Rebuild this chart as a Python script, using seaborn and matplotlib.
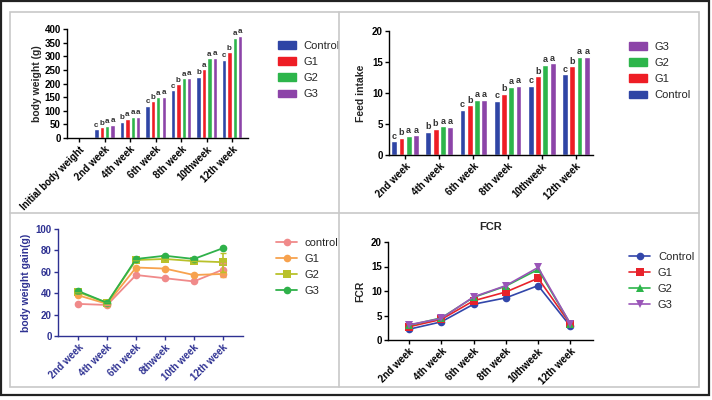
import pandas as pd
import seaborn as sns
import numpy as np
import matplotlib.pyplot as plt
import matplotlib
from matplotlib.patches import Rectangle
from matplotlib.lines import Line2D

matplotlib.use('Agg')

groups = ['Control', 'G1', 'G2', 'G3']

# === body weight ===
bw_weeks = ['Initial body weight', '2nd week', '4th week', '6th week', '8th week', '10thweek', '12th week']
bw_control = [1.5, 32, 60, 118, 175, 225, 288]
bw_g1 = [1.5, 40, 70, 135, 197, 253, 315]
bw_g2 = [1.5, 45, 78, 150, 220, 293, 368]
bw_g3 = [1.5, 48, 77, 152, 222, 295, 375]
bw_letters_control = ['', 'c', 'b', 'c', 'c', 'b', 'c']
bw_letters_g1 = ['', 'b', 'a', 'b', 'b', 'a', 'b']
bw_letters_g2 = ['', 'a', 'a', 'a', 'a', 'a', 'a']
bw_letters_g3 = ['', 'a', 'a', 'a', 'a', 'a', 'a']

# === feed intake ===
fi_weeks = ['2nd week', '4th week', '6th week', '8th week', '10thweek', '12th week']
fi_control = [2.2, 3.7, 7.3, 8.7, 11.2, 13.0]
fi_g1 = [2.8, 4.2, 8.0, 9.9, 12.7, 14.3]
fi_g2 = [3.1, 4.6, 8.9, 11.0, 14.5, 15.8]
fi_g3 = [3.2, 4.5, 8.9, 11.2, 14.8, 15.8]
fi_letters_control = ['c', 'b', 'c', 'c', 'c', 'c']
fi_letters_g1 = ['b', 'b', 'b', 'b', 'b', 'b']
fi_letters_g2 = ['a', 'a', 'a', 'a', 'a', 'a']
fi_letters_g3 = ['a', 'a', 'a', 'a', 'a', 'a']

# === body weight gain ===
gain_weeks = ['2nd week', '4th week', '6th week', '8thweek', '10th week', '12th week']
gain_labels = ['control', 'G1', 'G2', 'G3']
gain_control = [30, 29, 57, 54, 51, 62]
gain_g1 = [38, 30, 64, 63, 57, 58]
gain_g2 = [41, 31, 71, 72, 70, 69]
gain_g3 = [42, 31, 72, 75, 72, 82]
gain_err_control = [0, 0, 0, 0, 0, 6]
gain_err_g1 = [0, 0, 0, 0, 0, 3]
gain_err_g2 = [0, 0, 0, 0, 0, 9]
gain_err_g3 = [0, 0, 0, 0, 0, 1]

# === FCR ===
fcr_weeks = ['2nd week', '4th week', '6th week', '8th week', '10thweek', '12th week']
fcr_control = [2.2, 3.7, 7.3, 8.6, 11.1, 2.8]
fcr_g1 = [2.7, 4.2, 8.0, 9.8, 12.6, 3.2]
fcr_g2 = [3.0, 4.5, 8.7, 11.0, 14.4, 3.3]
fcr_g3 = [3.1, 4.4, 8.8, 11.1, 14.8, 3.3]

bar_colors = ['#2F45A5', '#EE1D25', '#2DB54B', '#8C44A8']
gain_colors = ['#F08A8A', '#F7A24E', '#B9C12B', '#2FB14A']
fcr_colors = ['#3246AA', '#E8222B', '#2DB54B', '#9A55B8']
navy = '#2E3192'

sns.set_style('ticks')
plt.rcParams['font.family'] = ['Liberation Sans', 'DejaVu Sans']
plt.rcParams['axes.linewidth'] = 1.0

W, H = 712, 400
fig = plt.figure(figsize=(W / 100, H / 100), dpi=100)


def px_axes(x0, y0, x1, y1):
    return fig.add_axes([x0 / W, 1 - y1 / H, (x1 - x0) / W, (y1 - y0) / H])


def long_df(weeks, series, names):
    rows = []
    for name, vals in zip(names, series):
        for w, v in zip(weeks, vals):
            rows.append({'week': w, 'group': name, 'value': v})
    return pd.DataFrame(rows)


def style_axes(ax, color='black'):
    sns.despine(ax=ax)
    for s in ['left', 'bottom']:
        ax.spines[s].set_color(color)
    ax.tick_params(axis='both', colors=color, length=3, width=1, labelsize=7, pad=1.5)
    for lab in ax.get_xticklabels() + ax.get_yticklabels():
        lab.set_fontweight('bold')
        lab.set_color(color)


def add_letters(ax, letters_lists, offset, size):
    for cont, letters in zip(ax.containers, letters_lists):
        for bar, let in zip(cont, letters):
            if let:
                ax.text(bar.get_x() + bar.get_width() / 2, bar.get_height() + offset, let,
                        ha='center', va='bottom', fontsize=size, fontweight='bold', color='#333333')


def bar_legend(ax, order, x, y):
    handles = [Rectangle((0, 0), 1, 1, color=bar_colors[groups.index(g)]) for g in order]
    ax.legend(handles, order, loc='upper left', bbox_to_anchor=(x / W, 1 - y / H),
              bbox_transform=fig.transFigure, frameon=False, fontsize=8,
              handlelength=1.6, handleheight=0.7, handletextpad=0.7, labelspacing=0.55)


# === 1. body weight ===
ax1 = px_axes(67, 29, 248, 138)
df1 = long_df(bw_weeks, [bw_control, bw_g1, bw_g2, bw_g3], groups)
sns.barplot(data=df1, x='week', y='value', hue='group', palette=bar_colors, width=0.85,
            gap=0.2, ax=ax1, legend=False, saturation=1)
add_letters(ax1, [bw_letters_control, bw_letters_g1, bw_letters_g2, bw_letters_g3], 2, 5.8)
ax1.set_ylim(0, 400)
ax1.set_yticks(range(0, 401, 50))
ax1.set_xlim(-0.47, 6.62)
ax1.set_xlabel('')
ax1.set_ylabel('body weight (g)', fontsize=7.5, fontweight='bold', labelpad=2)
ax1.set_xticks(range(len(bw_weeks)))
ax1.set_xticklabels(bw_weeks, rotation=45, ha='right', rotation_mode='anchor')
style_axes(ax1)
bar_legend(ax1, groups, 268, 31)

# === 2. feed intake ===
ax2 = px_axes(389, 31, 593, 155)
df2 = long_df(fi_weeks, [fi_control, fi_g1, fi_g2, fi_g3], groups)
sns.barplot(data=df2, x='week', y='value', hue='group', palette=bar_colors, width=0.85,
            gap=0.2, ax=ax2, legend=False, saturation=1)
add_letters(ax2, [fi_letters_control, fi_letters_g1, fi_letters_g2, fi_letters_g3], 0.1, 6.5)
ax2.set_ylim(0, 20)
ax2.set_yticks(range(0, 21, 5))
ax2.set_xlim(-0.47, 5.5)
ax2.set_xlabel('')
ax2.set_ylabel('Feed intake', fontsize=7.5, fontweight='bold', labelpad=4)
ax2.set_xticks(range(len(fi_weeks)))
ax2.set_xticklabels(fi_weeks, rotation=45, ha='right', rotation_mode='anchor')
style_axes(ax2)
bar_legend(ax2, groups[::-1], 619, 32)

# === 3. body weight gain ===
ax3 = px_axes(58, 229, 243, 336)
df3 = long_df(gain_weeks, [gain_control, gain_g1, gain_g2, gain_g3], gain_labels)
gain_markers = ['o', 'o', 's', 'o']
sns.lineplot(data=df3, x='week', y='value', hue='group', style='group', palette=gain_colors,
             markers=gain_markers, dashes=False, ax=ax3, legend=False, linewidth=1.3,
             markersize=5.5, markeredgewidth=0)
for vals, errs, c in zip([gain_control, gain_g1, gain_g2, gain_g3],
                         [gain_err_control, gain_err_g1, gain_err_g2, gain_err_g3], gain_colors):
    ax3.errorbar(range(len(gain_weeks)), vals, yerr=errs, fmt='none', ecolor=c,
                 elinewidth=1.2, capsize=2.5)
ax3.set_ylim(0, 100)
ax3.set_yticks(range(0, 101, 20))
ax3.set_xlim(-0.7, 5.7)
ax3.set_xlabel('')
ax3.set_ylabel('body weight gain(g)', fontsize=7.5, fontweight='bold', color=navy, labelpad=3)
ax3.set_xticks(range(len(gain_weeks)))
ax3.set_xticklabels(gain_weeks, rotation=45, ha='right', rotation_mode='anchor')
style_axes(ax3, navy)
h3 = [Line2D([], [], color=c, marker=m, markersize=5.5, markeredgewidth=0, linewidth=1.3)
      for c, m in zip(gain_colors, gain_markers)]
ax3.legend(h3, gain_labels, loc='upper left', bbox_to_anchor=(266 / W, 1 - 228 / H),
           bbox_transform=fig.transFigure, frameon=False, fontsize=8,
           handlelength=1.9, handletextpad=0.7, labelspacing=0.55)

# === 4. FCR ===
ax4 = px_axes(388, 242, 593, 340)
df4 = long_df(fcr_weeks, [fcr_control, fcr_g1, fcr_g2, fcr_g3], groups)
fcr_markers = ['o', 's', '^', 'v']
sns.lineplot(data=df4, x='week', y='value', hue='group', style='group', palette=fcr_colors,
             markers=fcr_markers, dashes=False, ax=ax4, legend=False, linewidth=1.2,
             markersize=5.5, markeredgewidth=0)
ax4.set_ylim(0, 20)
ax4.set_yticks(range(0, 21, 5))
ax4.set_xlim(-0.65, 5.7)
ax4.set_xlabel('')
ax4.set_ylabel('FCR', fontsize=7.5, fontweight='bold', labelpad=4)
ax4.set_title('FCR', fontsize=8, fontweight='bold', pad=9)
ax4.set_xticks(range(len(fcr_weeks)))
ax4.set_xticklabels(fcr_weeks, rotation=45, ha='right', rotation_mode='anchor')
style_axes(ax4)
h4 = [Line2D([], [], color=c, marker=m, markersize=5.5, markeredgewidth=0, linewidth=1.2)
      for c, m in zip(fcr_colors, fcr_markers)]
ax4.legend(h4, groups, loc='upper left', bbox_to_anchor=(619 / W, 1 - 242 / H),
           bbox_transform=fig.transFigure, frameon=False, fontsize=8,
           handlelength=1.9, handletextpad=0.7, labelspacing=0.55)

# === ramki ===
fig.add_artist(Rectangle((1 / W, 1 - 395 / H), 708 / W, 394 / H, transform=fig.transFigure,
                         fill=False, edgecolor='#222222', linewidth=1.6))
fig.add_artist(Rectangle((10 / W, 1 - 387 / H), 689 / W, 375 / H, transform=fig.transFigure,
                         fill=False, edgecolor='#C8C8C8', linewidth=1.2))
fig.add_artist(Line2D([339 / W, 339 / W], [1 - 387 / H, 1 - 12 / H], transform=fig.transFigure,
                      color='#C8C8C8', linewidth=1.2))
fig.add_artist(Line2D([10 / W, 699 / W], [1 - 213 / H, 1 - 213 / H], transform=fig.transFigure,
                      color='#C8C8C8', linewidth=1.2))

fig.savefig('out.png', dpi=100)
